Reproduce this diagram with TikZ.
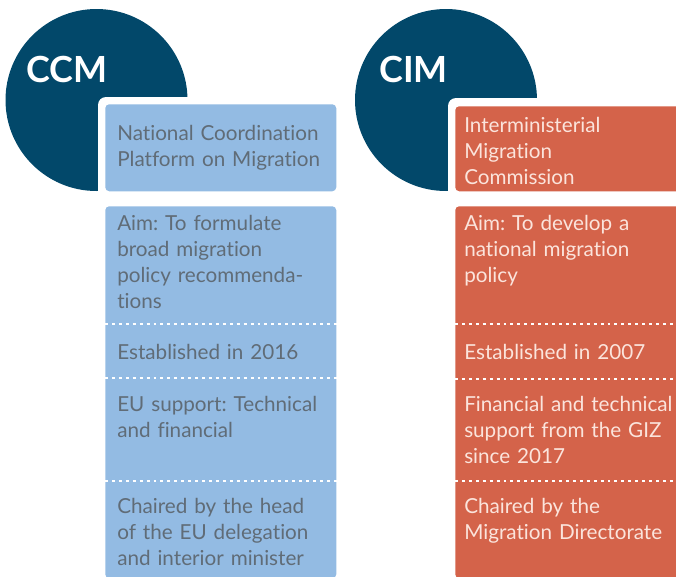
\documentclass[tikz,border=0pt]{standalone}
\usepackage{fontspec}
\setmainfont{Lato}[Ligatures=NoCommon]
\frenchspacing
\definecolor{navy}{HTML}{02486A}
\definecolor{skyfill}{HTML}{93BBE3}
\definecolor{rustfill}{HTML}{D4634A}
\definecolor{greytext}{HTML}{606C77}
\definecolor{paletext}{HTML}{FBE4DC}
\tikzset{
  disc/.style={circle, fill=navy, minimum size=136.5pt, inner sep=0pt},
  disclabel/.style={anchor=base west, inner sep=0pt, text=white, font=\fontsize{27}{30}\selectfont\bfseries},
  panel/.style={anchor=north west, inner sep=0pt, rounded corners=3pt},
  halo/.style={fill=white, rounded corners=6pt},
  bluetxt/.style={anchor=base west, inner sep=0pt, text width=170pt, align=left, text=greytext, font=\fontsize{15.5}{19.5}\selectfont},
  redtxt/.style={anchor=base west, inner sep=0pt, text width=170pt, align=left, text=paletext, font=\fontsize{15.5}{19.5}\selectfont},
  divider/.style={white, line width=1.5pt, dash pattern=on 2.2pt off 3pt}
}
\begin{document}
\begin{tikzpicture}[x=0.75pt,y=-0.75pt]
\useasboundingbox (0,0) rectangle (676,576);
\clip (0,0) rectangle (676,576);
% CCM side
\node[disc] (c1) at (96.5,100) {};
\node[disclabel] (c1t) at (26,82) {CCM};
\fill[halo] (98,97) rectangle (343,198);
\node[panel, fill=skyfill, minimum width=173.25pt, minimum height=65.25pt] (b1) at (105,104) {};
\node[panel, fill=skyfill, minimum width=173.25pt, minimum height=279pt] (b2) at (105,206) {};
\node[bluetxt] (t1) at (117,140) {National Coordination\\Platform on Migration};
\node[bluetxt] (t2) at (117,230) {Aim: To formulate\\broad migration\\policy recommenda-\\tions};
\node[bluetxt] (t3) at (117,359) {Established in 2016};
\node[bluetxt] (t4) at (117,411) {EU support: Technical\\and financial};
\node[bluetxt] (t5) at (117,513) {Chaired by the head\\of the EU delegation\\and interior minister};
\draw[divider] (b2.west |- 0,324) -- (b2.east |- 0,324);
\draw[divider] (b2.west |- 0,378) -- (b2.east |- 0,378);
\draw[divider] (b2.west |- 0,481) -- (b2.east |- 0,481);
% CIM side
\node[disc] (c2) at (446,100) {};
\node[disclabel] (c2t) at (379,82) {CIM};
\fill[halo] (448,98) rectangle (690,198);
\node[panel, fill=rustfill, minimum width=172pt, minimum height=63.75pt] (r1) at (455,106) {};
\node[panel, fill=rustfill, minimum width=172pt, minimum height=279pt] (r2) at (455,206) {};
\node[redtxt] (u1) at (464,132) {Interministerial\\Migration\\Commission};
\node[redtxt] (u2) at (464,230) {Aim: To develop a\\national migration\\policy};
\node[redtxt] (u3) at (464,359) {Established in 2007};
\node[redtxt] (u4) at (464,411) {Financial and technical\\support from the GIZ\\since 2017};
\node[redtxt] (u5) at (464,513) {Chaired by the\\Migration Directorate};
\draw[divider] (r2.west |- 0,324) -- (r2.east |- 0,324);
\draw[divider] (r2.west |- 0,379) -- (r2.east |- 0,379);
\draw[divider] (r2.west |- 0,481) -- (r2.east |- 0,481);
\end{tikzpicture}
\end{document}
